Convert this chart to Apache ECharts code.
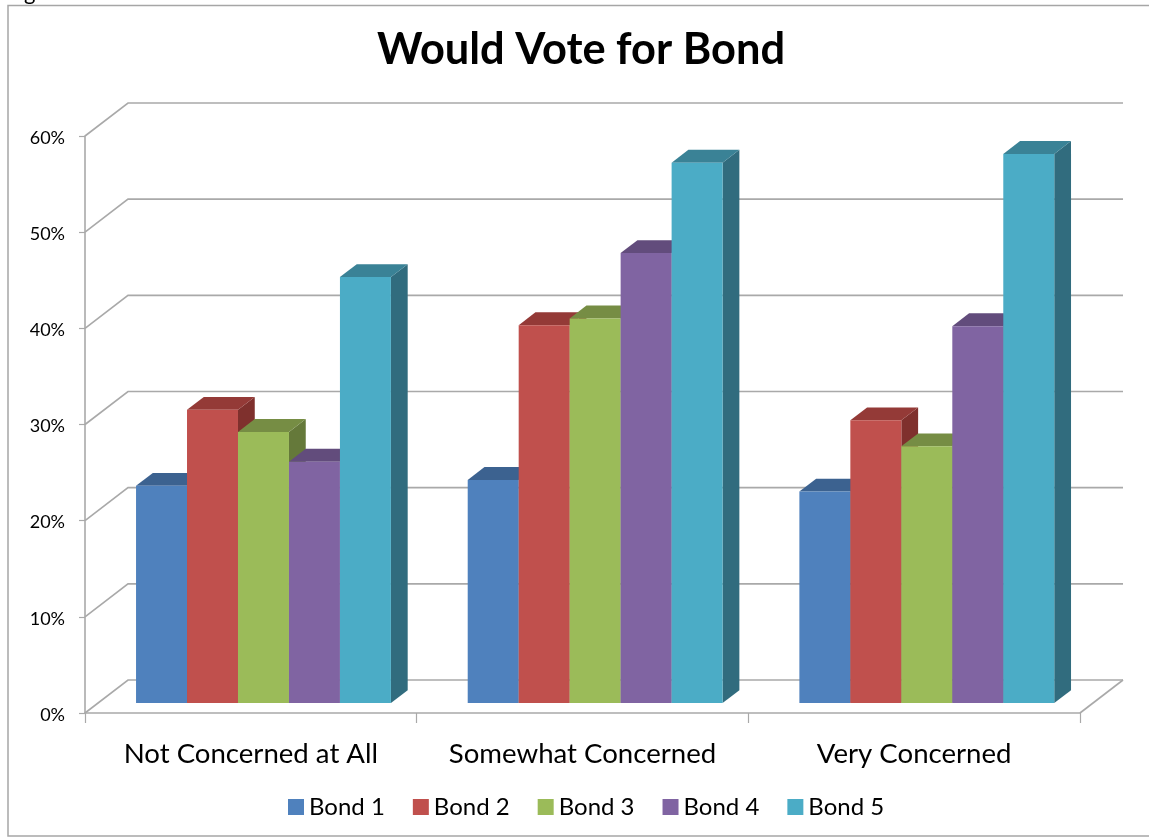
<!DOCTYPE html>
<html>
<head>
<meta charset="utf-8">
<style>html,body{margin:0;padding:0;background:#fff}#chart{width:1149px;height:837px}</style>
<script src="https://cdn.jsdelivr.net/npm/echarts@6/dist/echarts.min.js"></script>
</head>
<body>
<div id="chart"></div>
<script>
// Survey results: share who would vote for each bond, by level of concern
const categories = ['Not Concerned at All', 'Somewhat Concerned', 'Very Concerned'];
const bondNames = ['Bond 1', 'Bond 2', 'Bond 3', 'Bond 4', 'Bond 5'];
const bond1 = [22.6, 23.2, 22.0];
const bond2 = [30.5, 39.3, 29.4];
const bond3 = [28.2, 40.0, 26.7];
const bond4 = [25.1, 46.8, 39.2];
const bond5 = [44.3, 56.2, 57.1];
const gridTicks = [0, 10, 20, 30, 40, 50, 60];

const faceColors = ['#4F81BD', '#C0504D', '#9BBB59', '#8064A2', '#4BACC6'];
const topColors = ['#3C6290', '#943A37', '#768D44', '#624C7C', '#3A8296'];
const sideColors = ['#33547C', '#7F302D', '#65793A', '#534269', '#316C7E'];

// Oblique projection: one full unit of depth shifts a point right and up by these pixels
const DEPTH_X = 43;
const DEPTH_Y = 33;
const BAR_FRONT = 0.3;    // depth of a bar's front face
const BAR_BACK = 0.69;    // depth of a bar's back face
const BAND_PAD = 0.115;   // share of a category band left empty on each side
const BAR_SHARE = 0.1537; // share of a category band taken by one bar

const GRID_COLOR = '#A9A9A9';
const lineStyle = { stroke: GRID_COLOR, lineWidth: 1.6, fill: null };

function project(x, y, depth) {
  return [x + depth * DEPTH_X, y - depth * DEPTH_Y];
}

// Side wall and back wall lines for one value tick, plus the floor edge at zero
function renderWalls(params, api) {
  const box = params.coordSys;
  const y = api.coord([0, api.value(1)])[1];
  const left = box.x;
  const right = box.x + box.width;
  const children = [{
    type: 'polyline',
    shape: { points: [[left, y], project(left, y, 1), project(right, y, 1)] },
    style: lineStyle
  }];
  if (api.value(1) === 0) {
    children.push({
      type: 'line',
      shape: { x1: right, y1: y, x2: right + DEPTH_X, y2: y - DEPTH_Y },
      style: lineStyle
    });
  }
  return { type: 'group', children };
}

function barRenderer(seriesIndex) {
  return function (params, api) {
    const top = api.coord([api.value(0), api.value(1)]);
    const base = api.coord([api.value(0), 0]);
    const band = api.size([1, 0])[0];
    const x0 = top[0] - band / 2 + (BAND_PAD + seriesIndex * BAR_SHARE) * band;
    const x1 = x0 + BAR_SHARE * band;
    const frontTopL = project(x0, top[1], BAR_FRONT);
    const frontTopR = project(x1, top[1], BAR_FRONT);
    const backTopL = project(x0, top[1], BAR_BACK);
    const backTopR = project(x1, top[1], BAR_BACK);
    const frontBaseL = project(x0, base[1], BAR_FRONT);
    const frontBaseR = project(x1, base[1], BAR_FRONT);
    const backBaseR = project(x1, base[1], BAR_BACK);
    return {
      type: 'group',
      children: [
        { type: 'polygon', shape: { points: [frontTopR, backTopR, backBaseR, frontBaseR] },
          style: { fill: sideColors[seriesIndex] } },
        { type: 'polygon', shape: { points: [frontTopL, backTopL, backTopR, frontTopR] },
          style: { fill: topColors[seriesIndex] } },
        { type: 'polygon', shape: { points: [frontTopL, frontTopR, frontBaseR, frontBaseL] },
          style: { fill: faceColors[seriesIndex] } }
      ]
    };
  };
}

const bondValues = [bond1, bond2, bond3, bond4, bond5];
const TEXT_FONT = 'Lato, "Open Sans", sans-serif';

const chart = echarts.init(document.getElementById('chart'), null, { renderer: 'canvas' });
chart.setOption({
  animation: false,
  backgroundColor: '#ffffff',
  color: faceColors,
  title: {
    text: 'Would Vote for Bond',
    left: 576,
    top: 23,
    textAlign: 'center',
    textStyle: { fontFamily: TEXT_FONT, fontSize: 43.4, fontWeight: 'bold', color: '#000' }
  },
  legend: {
    data: bondNames,
    top: 790,
    left: 283,
    icon: 'rect',
    itemWidth: 16,
    itemHeight: 16,
    itemGap: 28,
    selectedMode: false,
    textStyle: { fontFamily: TEXT_FONT, fontSize: 24, color: '#000' }
  },
  grid: { left: 85, right: 69, top: 136, bottom: 124 },
  xAxis: {
    type: 'category',
    data: categories,
    axisLine: { lineStyle: { color: GRID_COLOR, width: 1.6 } },
    axisTick: { show: true, interval: 0, length: 10, lineStyle: { color: GRID_COLOR, width: 1.2 } },
    axisLabel: { interval: 0, margin: 27, fontFamily: TEXT_FONT, fontSize: 27.6, color: '#000' }
  },
  yAxis: {
    type: 'value',
    min: 0,
    max: 60,
    interval: 10,
    axisLine: { show: true, lineStyle: { color: GRID_COLOR, width: 1.6 } },
    axisTick: { show: true, length: 6, lineStyle: { color: GRID_COLOR, width: 1.2 } },
    axisLabel: {
      margin: 20,
      formatter: '{pct|{value}%}',
      rich: {
        pct: { padding: [4, 0, 0, 0], fontFamily: TEXT_FONT, fontSize: 18, color: '#000' }
      }
    },
    splitLine: { show: false }
  },
  graphic: [
    {
      type: 'polyline',
      silent: true,
      z: -1,
      shape: { points: [[1149, 5.5], [8, 5.5], [8, 836], [1149, 836]] },
      style: { stroke: '#A6A6A6', lineWidth: 1.5, fill: null }
    },
    {
      // Last letter of a heading above the frame, cut off by the page edge
      type: 'text',
      silent: true,
      x: 24,
      y: 4,
      style: {
        text: 'g',
        fontFamily: TEXT_FONT,
        fontSize: 22,
        fill: '#000',
        verticalAlign: 'bottom'
      }
    }
  ],
  series: [
    {
      type: 'custom',
      name: 'walls',
      silent: true,
      clip: false,
      z: 1,
      renderItem: renderWalls,
      data: gridTicks.map(t => [0, t])
    }
  ].concat(bondNames.map((name, i) => ({
    type: 'custom',
    name: name,
    clip: false,
    z: 2 + i,
    renderItem: barRenderer(i),
    itemStyle: { color: faceColors[i] },
    data: bondValues[i].map((v, c) => [c, v])
  })))
});
</script>
</body>
</html>
